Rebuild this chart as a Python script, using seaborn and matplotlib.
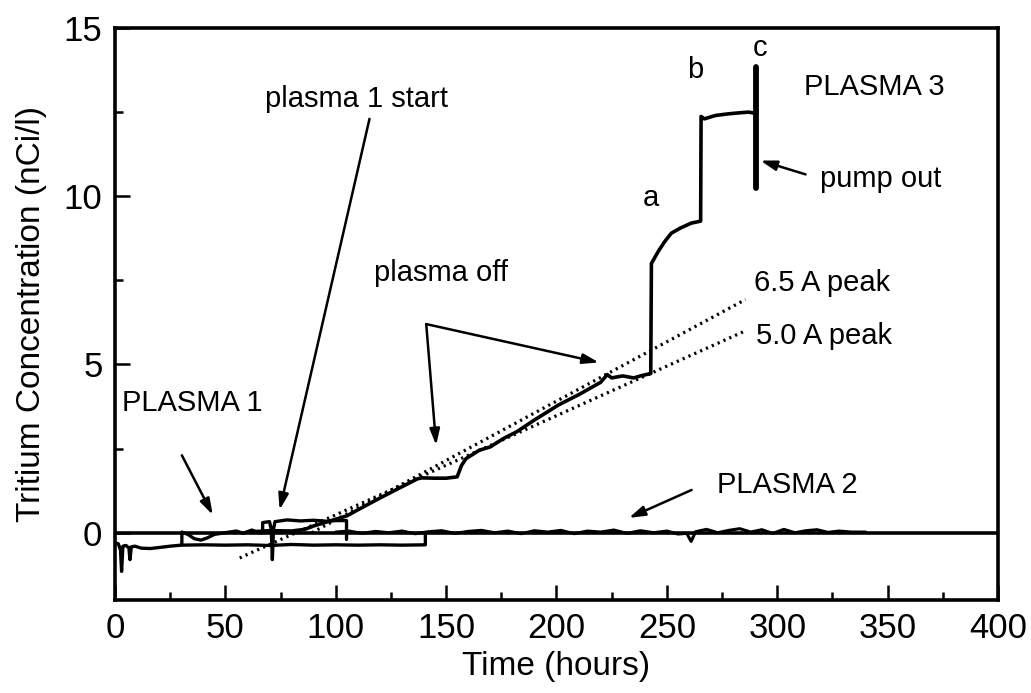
import numpy as np
import pandas as pd
import matplotlib
matplotlib.use("Agg")
import matplotlib.pyplot as plt
import seaborn as sns

sns.set_theme(style="white")
plt.rcParams['font.family'] = ['Liberation Sans', 'DejaVu Sans']
plt.rcParams['text.color'] = 'black'
plt.rcParams['axes.labelcolor'] = 'black'
plt.rcParams['xtick.color'] = 'black'
plt.rcParams['ytick.color'] = 'black'

# ---------------- data ----------------
# PLASMA 3 main trace
p3_x = [60, 70, 80, 86, 90, 95, 105, 112, 120, 128, 137, 139, 145, 150, 155, 157, 159,
        165, 170, 176, 182, 190, 201, 210, 220, 223, 225, 230, 235, 238.6, 242.7,
        243.0, 246, 249, 252, 256, 261, 265.3, 265.5, 267, 272, 278, 283, 287, 290.6]
p3_y = [0.02, 0.06, 0.05, 0.1, 0.2, 0.3, 0.5, 0.75, 1.03, 1.3, 1.6, 1.63, 1.62, 1.62, 1.66, 2.0, 2.2,
        2.45, 2.55, 2.8, 3.0, 3.35, 3.8, 4.1, 4.47, 4.7, 4.6, 4.66, 4.6, 4.67, 4.73,
        8.0, 8.35, 8.65, 8.9, 9.05, 9.2, 9.26, 12.37, 12.3, 12.4, 12.45, 12.48, 12.5, 12.46]

# pump-out line (c)
pump_x = [290.6, 290.6]
pump_y = [10.24, 13.85]

# PLASMA 1 lower trace
p1a_x = [0, 1.5, 2.5, 3.0, 3.6, 5, 6.3, 6.8, 7.4, 9, 12, 16, 20, 25, 30, 40, 50, 60,
         70, 80, 90, 100, 110, 120, 130, 140.6, 140.6]
p1a_y = [-0.3, -0.33, -0.5, -1.15, -0.4, -0.38, -0.45, -0.8, -0.42, -0.4, -0.46, -0.47, -0.44,
         -0.4, -0.37, -0.36, -0.37, -0.36, -0.38, -0.35, -0.37, -0.36, -0.37, -0.36, -0.37, -0.36, 0.0]

# PLASMA 1 upper trace
p1b_x = [30.3, 30.3, 33, 36, 39, 42, 45, 50, 55, 58, 62, 65, 66.9, 66.9, 70, 70.8, 71.3, 71.8,
         72.5, 78, 84, 90, 96, 100, 104.9, 104.9]
p1b_y = [-0.35, 0.02, -0.05, -0.18, -0.22, -0.15, -0.05, 0.0, 0.05, -0.02, 0.08, 0.0, 0.0, 0.3,
         0.33, 0.1, -0.8, 0.1, 0.33, 0.38, 0.35, 0.37, 0.34, 0.36, 0.36, -0.2]

# PLASMA 2 trace (noisy, near zero)
p2_x = [100, 106, 112, 118, 124, 130, 136, 142, 148, 154, 160, 166, 172, 178, 184, 190,
        196, 202, 208, 214, 220, 226, 232, 238, 244, 250, 255, 259, 261, 263, 268, 273,
        278, 283, 288, 293, 298, 303, 308, 313, 318, 323, 328, 333.6, 340]
p2_y = [0.02, 0.05, -0.02, 0.04, 0.0, 0.05, -0.03, 0.03, 0.06, -0.02, 0.04, 0.07, 0.0, 0.05,
        -0.03, 0.06, 0.02, 0.07, -0.03, 0.05, 0.02, 0.08, -0.02, 0.06, 0.0, 0.05, -0.04, -0.02,
        -0.26, 0.03, 0.1, 0.0, 0.07, 0.12, 0.02, 0.09, -0.02, 0.1, 0.0, 0.06, 0.09, 0.01, 0.05,
        0.02, 0.02]

# reference baseline
baseline_y = 0.0

# fitted peak lines (dotted)
fit65_x = [89.2, 285.6]
fit65_y = [0.0, 6.93]
fit50_x = [56.5, 285.6]
fit50_y = [-0.75, 6.0]

x_ticks = [0, 50, 100, 150, 200, 250, 300, 350, 400]
y_ticks = [0, 5, 10, 15]

# ---------------- figure ----------------
fig = plt.figure(figsize=(10.31, 6.93), dpi=100)
ax = fig.add_axes([0.1115, 0.1342, 0.968 - 0.1115, 0.9596 - 0.1342])

ax.axhline(baseline_y, color='black', lw=2.6, zorder=2)

kw = dict(estimator=None, sort=False, color='black', ax=ax, legend=False)
sns.lineplot(x=p1a_x, y=p1a_y, lw=2.4, **kw)
sns.lineplot(x=p1b_x, y=p1b_y, lw=2.4, **kw)
sns.lineplot(x=p2_x, y=p2_y, lw=2.2, **kw)
sns.lineplot(x=p3_x, y=p3_y, lw=2.6, **kw)
sns.lineplot(x=pump_x, y=pump_y, lw=4.2, **kw)
sns.lineplot(x=fit65_x, y=fit65_y, lw=2.3, linestyle=(0, (0.7, 1.3)), **kw)
sns.lineplot(x=fit50_x, y=fit50_y, lw=2.3, linestyle=(0, (0.7, 1.3)), **kw)

ax.set_xlim(0, 400)
ax.set_ylim(-2, 15)
ax.set_xticks(x_ticks)
ax.set_yticks(y_ticks)
ax.set_xticks(np.arange(25, 400, 50), minor=True)
ax.set_yticks([2.5, 7.5, 12.5], minor=True)
ax.tick_params(axis='both', which='major', direction='in', length=11, width=1.8,
               labelsize=25, colors='black', pad=9)
ax.tick_params(axis='both', which='minor', direction='in', length=6, width=1.8)
ax.tick_params(axis='x', which='both', top=False, bottom=True)
ax.tick_params(axis='y', which='both', left=True, right=False)
for s in ax.spines.values():
    s.set_linewidth(2.6)
    s.set_color('black')

ax.set_xlabel('Time (hours)', fontsize=24, labelpad=4, color='black')
ax.set_ylabel('Tritium Concentration (nCi/l)', fontsize=24, labelpad=12, color='black')

fs = 21
arrow = dict(arrowstyle='-|>,head_length=0.8,head_width=0.25', color='black', lw=1.8,
             shrinkA=0, shrinkB=0)
tk = dict(fontsize=fs, va='center', color='black')
ax.text(3.2, 3.85, 'PLASMA 1', ha='left', **tk)
ax.annotate('', xy=(44.3, 0.53), xytext=(30.3, 2.3), arrowprops=arrow)
ax.text(67.8, 12.9, 'plasma 1 start', ha='left', **tk)
ax.annotate('', xy=(74.6, 0.68), xytext=(115.3, 12.3), arrowprops=arrow)
ax.text(117.5, 7.72, 'plasma off', ha='left', **tk)
ax.annotate('', xy=(145.5, 2.6), xytext=(141, 6.2), arrowprops=arrow)
ax.annotate('', xy=(219.2, 5.06), xytext=(141, 6.2), arrowprops=arrow)
ax.text(272.5, 1.42, 'PLASMA 2', ha='left', **tk)
ax.annotate('', xy=(232.8, 0.44), xytext=(261.2, 1.27), arrowprops=arrow)
ax.text(242.7, 9.94, 'a', ha='center', **tk)
ax.text(263, 13.75, 'b', ha='center', **tk)
ax.text(292.4, 14.4, 'c', ha='center', **tk)
ax.text(311.9, 13.25, 'PLASMA 3', ha='left', **tk)
ax.text(319.5, 10.5, 'pump out', ha='left', **tk)
ax.annotate('', xy=(292.4, 11.06), xytext=(312.8, 10.65), arrowprops=arrow)
ax.text(289.3, 7.43, '6.5 A peak', ha='left', **tk)
ax.text(290.2, 5.86, '5.0 A peak', ha='left', **tk)

fig.savefig('out.png', dpi=100)
